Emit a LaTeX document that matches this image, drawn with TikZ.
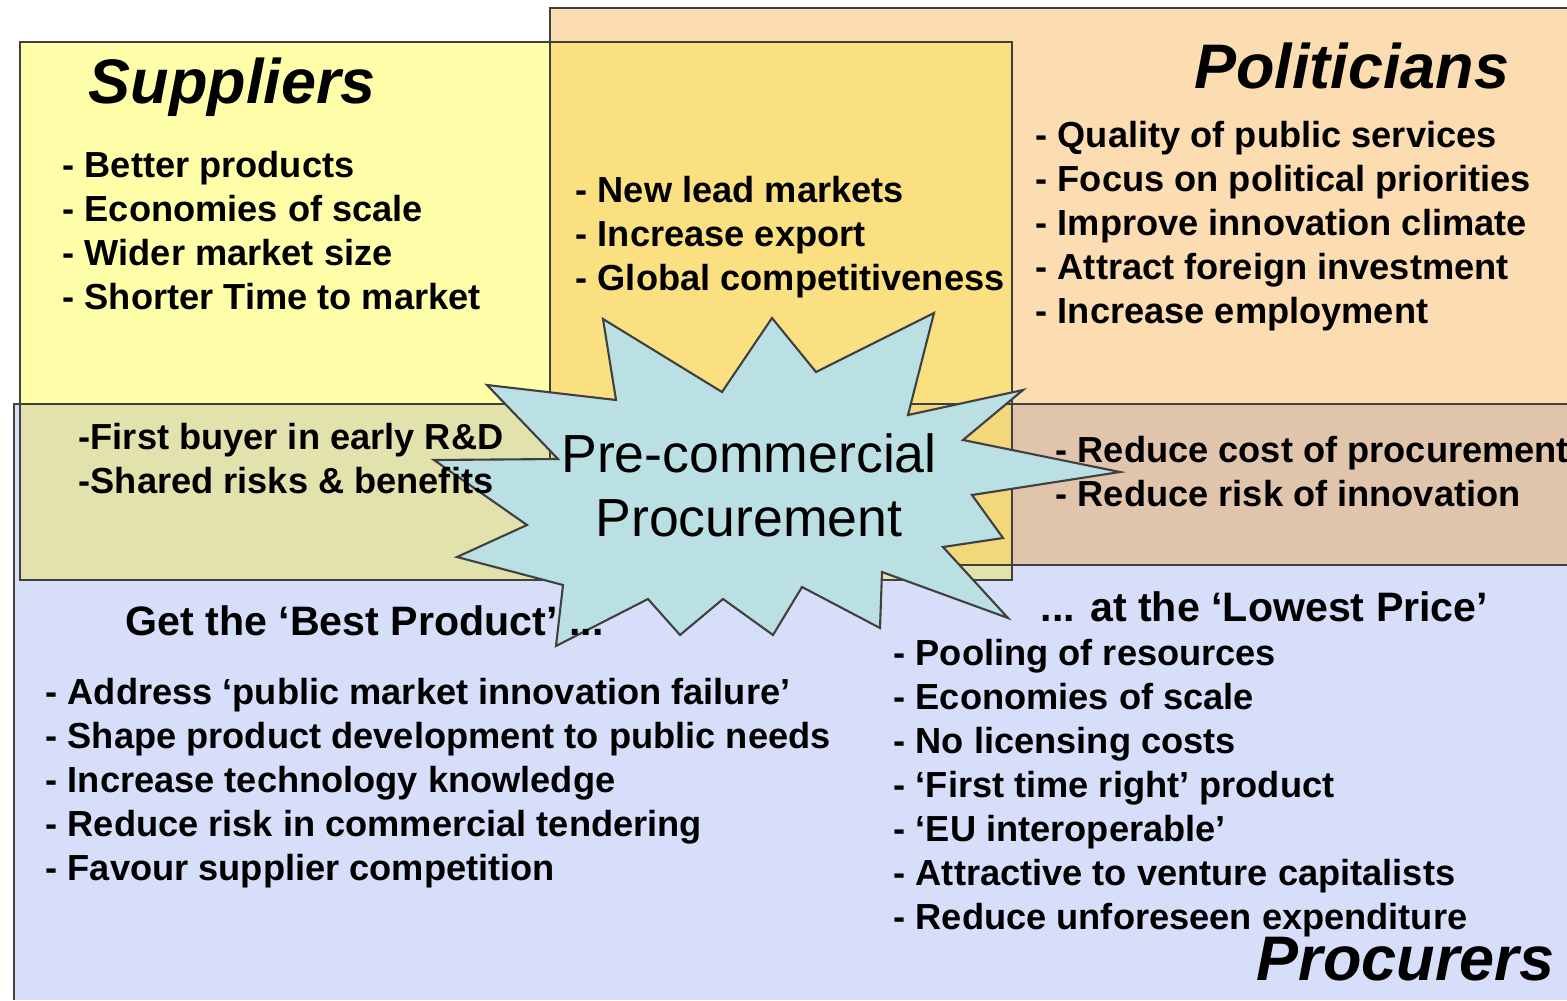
\documentclass[tikz,border=0pt]{standalone}
\usepackage{fontspec}
\setmainfont{Liberation Sans}
\usepackage{xcolor}
\usepackage{tikz}
\usetikzlibrary{positioning}

\definecolor{supyellow}{RGB}{255,255,170}
\definecolor{polpeach}{RGB}{252,221,178}
\definecolor{problue}{RGB}{214,222,250}
\definecolor{suppol}{RGB}{250,224,128}
\definecolor{suppolpro}{RGB}{242,216,122}
\definecolor{suppro}{RGB}{226,226,172}
\definecolor{polpro}{RGB}{224,196,172}
\definecolor{burst}{RGB}{186,224,228}
\definecolor{edgegray}{RGB}{64,64,64}

\begin{document}
\begin{tikzpicture}[x=0.01cm,y=-0.01cm,line join=miter]
			\tikzstyle{every node}=[inner sep=0pt,text=black]
			\tikzstyle{listtext}=[anchor=north west,align=left,font=\fontsize{10.3}{12.5}\selectfont\bfseries]
			\tikzstyle{subhead}=[anchor=base west,font=\fontsize{11.7}{14}\selectfont\bfseries]
			\tikzstyle{heading}=[font=\fontsize{17.9}{21}\selectfont\bfseries\itshape]
			\tikzstyle{border}=[draw=edgegray,line width=0.6pt]
			
			\useasboundingbox (0,0) rectangle (1567,1000);
			\fill[white] (0,0) rectangle (1567,1000);
			
			% the three groups
			\fill[polpeach] (550,8) rectangle (1567,565);
			\fill[supyellow] (20,42) rectangle (1012,580);
			\fill[problue] (14,404) rectangle (1567,1000);
			
			% overlaps
			\fill[suppol] (550,42) rectangle (1012,404);
			\fill[suppolpro] (550,404) rectangle (1012,565);
			\fill[suppro] (20,404) rectangle (550,580);
			\fill[suppro] (550,565) rectangle (1012,580);
			\fill[polpro] (1012,404) rectangle (1567,565);
			
			\draw[border] (1567,8) -- (550,8) -- (550,565) -- (1567,565);
			\draw[border] (20,42) rectangle (1012,580);
			\draw[border] (1567,404) -- (14,404) -- (14,1000);
			
			% star
			\filldraw[fill=burst,draw=edgegray,line width=0.6pt]
			(603,319) -- (722,392) -- (772,318) -- (816,372) -- (934,313)
			-- (908,415) -- (1023,390) -- (963,440) -- (1120,472) -- (972,495)
			-- (1003,538) -- (943,547) -- (1008,618) -- (882,572) -- (880,628)
			-- (802,587) -- (773,635) -- (723,599) -- (680,635) -- (648,599)
			-- (556,646) -- (563,585) -- (457,557) -- (527,525) -- (434,460)
			-- (558,459) -- (487,385) -- (616,400) -- cycle;
			
			\node[font=\fontsize{15.25}{18.2}\selectfont,align=center] (pcp) at (749,485) {Pre-commercial\\Procurement};
			
			\node[heading,anchor=base west] (Sup) at (88,103) {Suppliers};
			
			\node[heading,anchor=base east] (Pol) at (1510,88) {Politicians};
			
			\node[heading,anchor=base east] (Pro) at (1555,980) {Procurers};
			
			\node[listtext] (SupList) at (62,151) {- Better products\\- Economies of scale\\- Wider market size\\- Shorter Time to market};
			
			\node[listtext] (SupPolList) at (575,176) {- New lead markets\\- Increase export\\- Global competitiveness};
			
			\node[listtext] (PolList) at (1035,121) {- Quality of public services\\- Focus on political priorities\\- Improve innovation climate\\- Attract foreign investment\\- Increase employment};
			
			\node[listtext] (SupProList) at (78,423) {-First buyer in early R\&D\\-Shared risks \& benefits};
			
			\node[listtext] (PolProList) at (1055,436) {- Reduce cost of procurement\\- Reduce risk of innovation};
			
			\node[subhead] (Best) at (125,635) {Get the ‘Best Product’ ...};
			
			\node[listtext] (BestList) at (45,678) {- Address ‘public market innovation failure’\\- Shape product development to public needs\\- Increase technology knowledge\\- Reduce risk in commercial tendering\\- Favour supplier competition};
			
			\node[subhead] (Low) at (1040,621) {... at the ‘Lowest Price’};
			
			\node[listtext] (LowList) at (893,639) {- Pooling of resources\\- Economies of scale\\- No licensing costs\\- ‘First time right’ product\\- ‘EU interoperable’\\- Attractive to venture capitalists\\- Reduce unforeseen expenditure};
\end{tikzpicture}
\end{document}
